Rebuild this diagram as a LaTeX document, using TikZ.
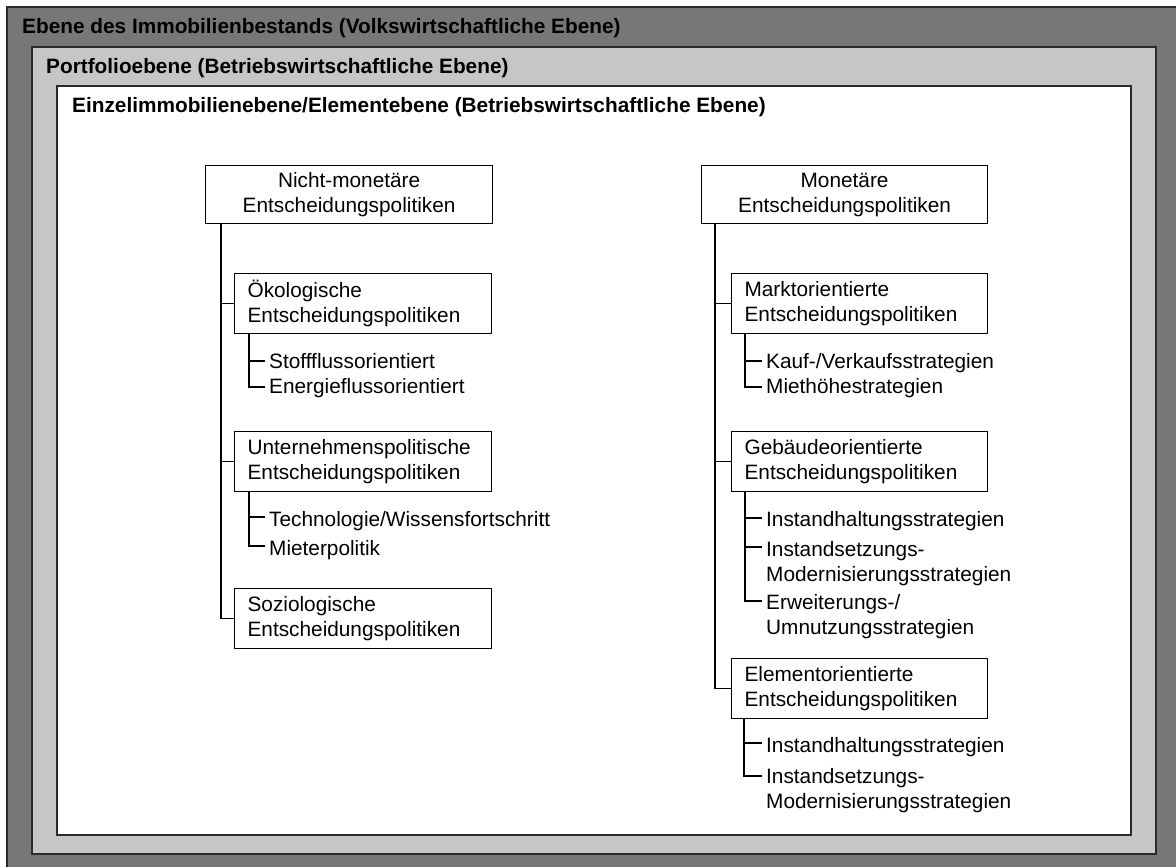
\documentclass[tikz,border=0pt]{standalone}
\usepackage{fontspec}
\setmainfont{Liberation Sans}
\definecolor{outerfill}{HTML}{777777}
\definecolor{midfill}{HTML}{C6C6C6}
\definecolor{rim}{HTML}{2A2A2A}
\begin{document}
\begin{tikzpicture}[x=1pt,y=-1pt,
  txt/.style={font=\fontsize{20.8}{25}\selectfont},
  title/.style={txt,font=\fontsize{20.8}{25}\selectfont\bfseries,anchor=base west,inner sep=0pt},
  levelframe/.style={draw=rim,line width=1.8pt},
  policy/.style={txt,draw,line width=1.2pt,fill=white,anchor=north west,
    inner xsep=13pt,inner ysep=0pt,minimum height=60pt,align=left},
  rootbox/.style={txt,draw,line width=1.2pt,fill=white,anchor=north west,
    inner xsep=4pt,inner ysep=0pt,minimum height=58pt,align=center},
  leaf/.style={txt,anchor=base west,inner sep=0pt,text width=270pt,align=left},
  link/.style={line width=1.2pt}
]
\useasboundingbox (0,0) rectangle (1176,867);

% nested level frames
\fill[white] (0,0) rectangle (1176,867);
\draw[levelframe,fill=outerfill] (7,7) rectangle (1190,880);
\draw[levelframe,fill=midfill] (32,47) rectangle (1156,854);
\draw[levelframe,fill=white] (57,86) rectangle (1131,835);

\node[title] (t1) at (22,34) {Ebene des Immobilienbestands (Volkswirtschaftliche Ebene)};
\node[title] (t2) at (46,74) {Portfolioebene (Betriebswirtschaftliche Ebene)};
\node[title] (t3) at (72,112) {Einzelimmobilienebene/Elementebene (Betriebswirtschaftliche Ebene)};

% ---- non-monetary branch ----
\node[rootbox,text width=279pt] (nm) at (205,165) {Nicht-monetäre\\Entscheidungspolitiken};
\node[policy,text width=231pt] (ok) at (234,273) {Ökologische\\Entscheidungspolitiken};
\node[policy,text width=231pt] (up) at (234,431) {Unternehmenspolitische\\Entscheidungspolitiken};
\node[policy,text width=231pt] (so) at (234,588) {Soziologische\\Entscheidungspolitiken};

\node[leaf] (ok1) at (269,368) {Stoffflussorientiert};
\node[leaf] (ok2) at (269,393) {Energieflussorientiert};
\node[leaf] (up1) at (269,526) {Technologie/Wissensfortschritt};
\node[leaf] (up2) at (269,555) {Mieterpolitik};

\draw[link] ([xshift=16]nm.south west) |- (so.west);
\draw[link] ([xshift=16]nm.south west) |- (ok.west);
\draw[link] ([xshift=16]nm.south west) |- (up.west);

\draw[link] ([xshift=15]ok.south west) |- ([xshift=-4,yshift=6]ok2.base west);
\draw[link] ([xshift=15]ok.south west) |- ([xshift=-4,yshift=7]ok1.base west);
\draw[link] ([xshift=15]up.south west) |- ([xshift=-4,yshift=9]up2.base west);
\draw[link] ([xshift=15]up.south west) |- ([xshift=-4,yshift=9]up1.base west);

% ---- monetary branch ----
\node[rootbox,text width=278pt] (mo) at (701,165) {Monetäre\\Entscheidungspolitiken};
\node[policy,text width=230pt] (ma) at (731,273) {Marktorientierte\\Entscheidungspolitiken};
\node[policy,text width=230pt] (ge) at (731,431) {Gebäudeorientierte\\Entscheidungspolitiken};
\node[policy,text width=230pt] (el) at (731,658) {Elementorientierte\\Entscheidungspolitiken};

\node[leaf] (ma1) at (766,368) {Kauf-/Verkaufsstrategien};
\node[leaf] (ma2) at (766,393) {Miethöhestrategien};
\node[leaf] (ge1) at (766,526) {Instandhaltungsstrategien};
\node[leaf] (ge2) at (766,556) {Instandsetzungs-\\Modernisierungsstrategien};
\node[leaf] (ge3) at (766,609) {Erweiterungs-/\\Umnutzungsstrategien};
\node[leaf] (el1) at (766,752) {Instandhaltungsstrategien};
\node[leaf] (el2) at (766,783) {Instandsetzungs-\\Modernisierungsstrategien};

\draw[link] ([xshift=14]mo.south west) |- (el.west);
\draw[link] ([xshift=14]mo.south west) |- (ma.west);
\draw[link] ([xshift=14]mo.south west) |- (ge.west);

\draw[link] ([xshift=14]ma.south west) |- ([xshift=-4,yshift=6]ma2.base west);
\draw[link] ([xshift=14]ma.south west) |- ([xshift=-4,yshift=7]ma1.base west);
\draw[link] ([xshift=14]ge.south west) |- ([xshift=-4,yshift=8]ge3.base west);
\draw[link] ([xshift=14]ge.south west) |- ([xshift=-4,yshift=8]ge1.base west);
\draw[link] ([xshift=14]ge.south west) |- ([xshift=-4,yshift=9]ge2.base west);
\draw[link] ([xshift=13]el.south west) |- ([xshift=-4,yshift=7]el2.base west);
\draw[link] ([xshift=13]el.south west) |- ([xshift=-4,yshift=9]el1.base west);
\end{tikzpicture}
\end{document}
